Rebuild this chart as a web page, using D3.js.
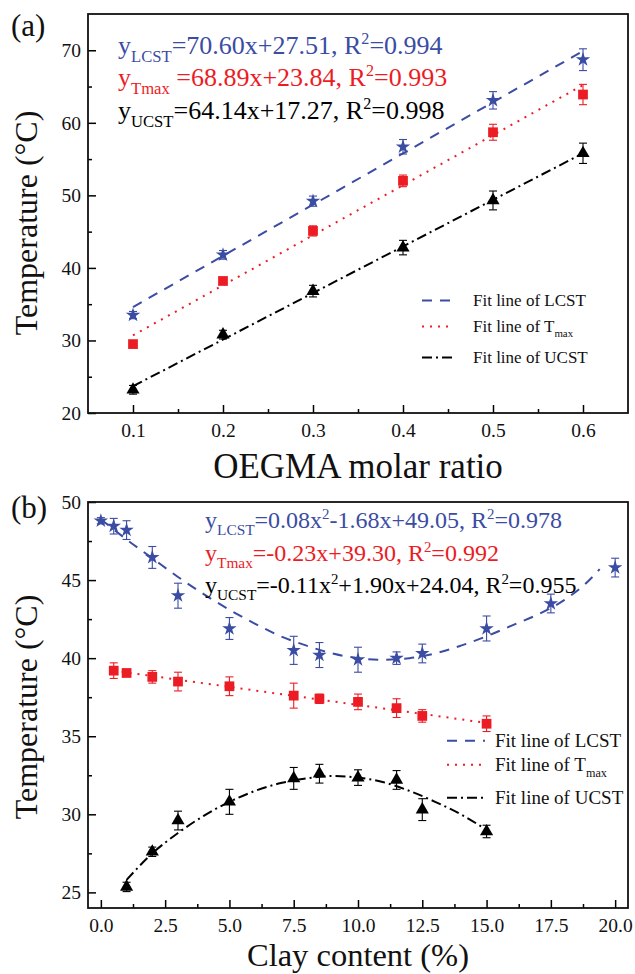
<!DOCTYPE html>
<html>
<head>
<meta charset="utf-8">
<script src="https://cdn.jsdelivr.net/npm/d3@7"></script>
<style>
  body { margin: 0; background: #fff; }
  svg text { font-family: "Liberation Serif", "Times New Roman", serif; }
</style>
</head>
<body>
<div id="chart"></div>
<script>
// Panel (a): transition temperatures vs OEGMA molar ratio
const ratioX = [0.1, 0.2, 0.3, 0.4, 0.5, 0.6];
const lcstA = [33.5, 41.8, 49.2, 56.7, 63.1, 68.7];
const lcstErrA = [0.5, 0.6, 0.7, 1.0, 1.2, 1.5];
const tmaxA = [29.5, 38.2, 45.1, 52.0, 58.7, 63.9];
const tmaxErrA = [0.4, 0.4, 0.7, 0.8, 1.1, 1.4];
const ucstA = [23.2, 30.8, 36.8, 42.8, 49.3, 55.8];
const ucstErrA = [0.6, 0.6, 0.8, 1.0, 1.3, 1.4];
// fit lines of panel (a), read at both ends
const fitXA = [0.1, 0.6];
const lcstFitA = [34.6, 69.9];
const tmaxFitA = [30.7, 65.2];
const ucstFitA = [23.7, 55.8];

// Panel (b): transition temperatures vs clay content
const clayLcstX = [0, 0.5, 1, 2, 3, 5, 7.5, 8.5, 10, 11.5, 12.5, 15, 17.5, 20];
const lcstB = [48.8, 48.45, 48.2, 46.45, 44.0, 41.9, 40.5, 40.2, 39.9, 40.0, 40.3, 41.9, 43.5, 45.8];
const lcstErrB = [0.2, 0.5, 0.6, 0.7, 0.8, 0.7, 0.9, 0.8, 0.8, 0.4, 0.6, 0.8, 0.6, 0.6];
const clayTmaxX = [0.5, 1, 2, 3, 5, 7.5, 8.5, 10, 11.5, 12.5, 15];
const tmaxB = [39.2, 39.05, 38.8, 38.5, 38.2, 37.6, 37.4, 37.2, 36.8, 36.3, 35.8];
const tmaxErrB = [0.5, 0.1, 0.4, 0.6, 0.6, 0.8, 0.3, 0.5, 0.6, 0.4, 0.5];
const clayUcstX = [1, 2, 3, 5, 7.5, 8.5, 10, 11.5, 12.5, 15];
const ucstB = [25.35, 27.6, 29.6, 30.8, 32.3, 32.6, 32.35, 32.2, 30.3, 28.9];
const ucstErrB = [0.3, 0.3, 0.6, 0.8, 0.7, 0.6, 0.5, 0.6, 0.7, 0.4];
// fit curves of panel (b)
const lcstFitXB = [0, 1, 2, 3, 4, 5, 6, 7, 8, 9, 10, 11, 12, 13, 14, 15, 16, 17, 18, 19, 19.4];
const lcstFitB = [48.9, 47.6, 46.4, 45.2, 44.1, 43.1, 42.2, 41.4, 40.8, 40.3, 40.0, 39.9, 40.0, 40.3, 40.8, 41.4, 42.1, 42.8, 43.7, 45.0, 45.7];
const tmaxFitXB = [0.5, 15];
const tmaxFitB = [39.2, 35.85];
const ucstFitXB = [1, 2, 3, 4, 5, 6, 7, 8, 9, 10, 11, 12, 13, 14, 15];
const ucstFitB = [25.8, 27.5, 28.8, 29.9, 30.8, 31.5, 32.0, 32.3, 32.45, 32.35, 32.05, 31.5, 30.8, 30.0, 29.0];

// Text content
const eqA = [
    [["y", ""], ["LCST", "sub"], ["=70.60x+27.51, R", ""], ["2", "sup"], ["=0.994", ""]],
    [["y", ""], ["Tmax", "sub"], [" =68.89x+23.84, R", ""], ["2", "sup"], ["=0.993", ""]],
    [["y", ""], ["UCST", "sub"], ["=64.14x+17.27, R", ""], ["2", "sup"], ["=0.998", ""]]
];
const eqB = [
    [["y", ""], ["LCST", "sub"], ["=0.08x", ""], ["2", "sup"], ["-1.68x+49.05, R", ""], ["2", "sup"], ["=0.978", ""]],
    [["y", ""], ["Tmax", "sub"], ["=-0.23x+39.30, R", ""], ["2", "sup"], ["=0.992", ""]],
    [["y", ""], ["UCST", "sub"], ["=-0.11x", ""], ["2", "sup"], ["+1.90x+24.04, R", ""], ["2", "sup"], ["=0.955", ""]]
];
const legendLabels = [
    [["Fit line of LCST", ""]],
    [["Fit line of T", ""], ["max", "sub"]],
    [["Fit line of UCST", ""]]
];

const BLUE = "#3b4ca3", RED = "#ec1c25", BLACK = "#000";
const dashLcst = "10,8", dashTmax = "2,6", dashUcst = "10,4,2,4";

const svg = d3.select("#chart").append("svg")
    .attr("width", 635)
    .attr("height", 974);

function richText(g, segs, size, fill) {
    const t = g.append("text").attr("fill", fill).attr("font-size", size);
    let shift = 0;
    segs.forEach(function (s) {
        let target = 0, fs = size;
        if (s[1] === "sub") { target = size * 0.3; fs = size * 0.64; }
        if (s[1] === "sup") { target = -size * 0.38; fs = size * 0.62; }
        t.append("tspan")
         .attr("dy", target - shift)
         .attr("font-size", fs)
         .text(s[0]);
        shift = target;
    });
    return t;
}

function drawPanel(p) {
    const g = svg.append("g");
    const xScale = d3.scaleLinear().domain(p.xDomain).range([p.left, p.right]);
    const yScale = d3.scaleLinear().domain(p.yDomain).range([p.bottom, p.top]);

    // Minor ticks, inward, no labels
    g.append("g")
     .attr("transform", "translate(0," + p.bottom + ")")
     .call(d3.axisBottom(xScale).tickValues(p.xMinor).tickSizeInner(-4).tickSizeOuter(0))
     .selectAll("text").remove();
    g.append("g")
     .attr("transform", "translate(" + p.left + ",0)")
     .call(d3.axisLeft(yScale).tickValues(p.yMinor).tickSizeInner(-4).tickSizeOuter(0))
     .selectAll("text").remove();

    // Major ticks, inward, with labels
    const xAxis = g.append("g")
     .attr("transform", "translate(0," + p.bottom + ")")
     .call(d3.axisBottom(xScale).tickValues(p.xMajor).tickSizeInner(-8).tickSizeOuter(0).tickPadding(10).tickFormat(p.xFormat));
    const yAxis = g.append("g")
     .attr("transform", "translate(" + p.left + ",0)")
     .call(d3.axisLeft(yScale).tickValues(p.yMajor).tickSizeInner(-8).tickSizeOuter(0).tickPadding(7).tickFormat(d3.format("d")));
    g.selectAll(".domain").remove();
    [xAxis, yAxis].forEach(function (a) {
        a.attr("font-family", null).attr("font-size", null);
        a.selectAll("text").attr("font-size", 19.5).attr("fill", "#111");
    });
    g.selectAll(".tick line").attr("stroke-width", 1.5);

    // Frame
    g.append("rect")
     .attr("x", p.left).attr("y", p.top)
     .attr("width", p.right - p.left).attr("height", p.bottom - p.top)
     .attr("fill", "none").attr("stroke", "#111").attr("stroke-width", 1.8);

    // Fit lines
    const line = d3.line()
        .x(function (d) { return xScale(d[0]); })
        .y(function (d) { return yScale(d[1]); })
        .curve(d3.curveMonotoneX);
    p.fits.forEach(function (f) {
        g.append("path")
         .datum(d3.zip(f.x, f.y))
         .attr("d", line)
         .attr("fill", "none")
         .attr("stroke", f.color)
         .attr("stroke-width", 2)
         .attr("stroke-dasharray", f.dash);
    });

    // Error bars and markers
    p.series.forEach(function (s) {
        const pts = d3.zip(s.x, s.y, s.err);
        const eb = g.append("g").attr("stroke", s.color).attr("stroke-width", 1.1);
        pts.forEach(function (d) {
            const cx = xScale(d[0]), y1 = yScale(d[1] - d[2]), y2 = yScale(d[1] + d[2]);
            eb.append("line").attr("x1", cx).attr("x2", cx).attr("y1", y1).attr("y2", y2);
            eb.append("line").attr("x1", cx - 4).attr("x2", cx + 4).attr("y1", y1).attr("y2", y1);
            eb.append("line").attr("x1", cx - 4).attr("x2", cx + 4).attr("y1", y2).attr("y2", y2);
        });
        g.append("g").selectAll("path")
         .data(pts)
         .enter()
         .append("path")
         .attr("transform", function (d) { return "translate(" + xScale(d[0]) + "," + yScale(d[1]) + ")"; })
         .attr("d", d3.symbol().type(s.symbol).size(s.size))
         .attr("fill", s.color);
    });

    // Equations
    p.eqs.forEach(function (segs, i) {
        richText(g, segs, p.eqFont, p.eqColors[i])
         .attr("x", p.eqX).attr("y", p.eqY[i]);
    });

    // Legend
    p.fits.forEach(function (f, i) {
        const ly = p.legY[i];
        g.append("line")
         .attr("x1", p.legX).attr("x2", p.legX + p.legLen)
         .attr("y1", ly - p.legFont * 0.33).attr("y2", ly - p.legFont * 0.33)
         .attr("stroke", f.color).attr("stroke-width", 2)
         .attr("stroke-dasharray", f.dash);
        richText(g, legendLabels[i], p.legFont, "#111")
         .attr("x", p.legTextX).attr("y", ly);
    });

    // Axis titles and panel tag
    g.append("text")
     .attr("x", (p.left + p.right) / 2).attr("y", p.xTitleY)
     .attr("text-anchor", "middle").attr("font-size", p.xTitleFont).attr("fill", "#111")
     .text(p.xTitle);
    g.append("text")
     .attr("transform", "translate(37," + p.yTitleC + ") rotate(-90)")
     .attr("text-anchor", "middle").attr("font-size", 32).attr("fill", "#111")
     .text("Temperature (°C)");
    g.append("text")
     .attr("x", 11).attr("y", p.tagY)
     .attr("font-size", 31).attr("fill", "#111")
     .text(p.tag);
}

drawPanel({
    left: 88, right: 628, top: 14, bottom: 413,
    xDomain: [0.05, 0.65], yDomain: [20, 75],
    xMajor: [0.1, 0.2, 0.3, 0.4, 0.5, 0.6],
    xMinor: [0.15, 0.25, 0.35, 0.45, 0.55],
    yMajor: [20, 30, 40, 50, 60, 70],
    yMinor: [25, 35, 45, 55, 65],
    xFormat: d3.format(".1f"),
    fits: [
        {x: fitXA, y: lcstFitA, color: BLUE, dash: dashLcst},
        {x: fitXA, y: tmaxFitA, color: RED, dash: dashTmax},
        {x: fitXA, y: ucstFitA, color: BLACK, dash: dashUcst}
    ],
    series: [
        {x: ratioX, y: lcstA, err: lcstErrA, color: BLUE, symbol: d3.symbolStar, size: 65},
        {x: ratioX, y: tmaxA, err: tmaxErrA, color: RED, symbol: d3.symbolSquare, size: 95},
        {x: ratioX, y: ucstA, err: ucstErrA, color: BLACK, symbol: d3.symbolTriangle, size: 75}
    ],
    eqs: eqA, eqColors: [BLUE, RED, BLACK], eqFont: 26,
    eqX: 118, eqY: [54, 86, 119],
    legX: 422, legLen: 32, legTextX: 473, legFont: 17, legY: [306, 332, 363],
    xTitle: "OEGMA molar ratio", xTitleY: 478, xTitleFont: 35,
    yTitleC: 223, tag: "(a)", tagY: 36
});

drawPanel({
    left: 88, right: 628, top: 502, bottom: 908,
    xDomain: [-0.5, 20.5], yDomain: [24, 50],
    xMajor: [0, 2.5, 5, 7.5, 10, 12.5, 15, 17.5, 20],
    xMinor: [1.25, 3.75, 6.25, 8.75, 11.25, 13.75, 16.25, 18.75],
    yMajor: [25, 30, 35, 40, 45, 50],
    yMinor: [27.5, 32.5, 37.5, 42.5, 47.5],
    xFormat: d3.format(".1f"),
    fits: [
        {x: lcstFitXB, y: lcstFitB, color: BLUE, dash: dashLcst},
        {x: tmaxFitXB, y: tmaxFitB, color: RED, dash: dashTmax},
        {x: ucstFitXB, y: ucstFitB, color: BLACK, dash: dashUcst}
    ],
    series: [
        {x: clayLcstX, y: lcstB, err: lcstErrB, color: BLUE, symbol: d3.symbolStar, size: 65},
        {x: clayTmaxX, y: tmaxB, err: tmaxErrB, color: RED, symbol: d3.symbolSquare, size: 95},
        {x: clayUcstX, y: ucstB, err: ucstErrB, color: BLACK, symbol: d3.symbolTriangle, size: 75}
    ],
    eqs: eqB, eqColors: [BLUE, RED, BLACK], eqFont: 24,
    eqX: 205, eqY: [528, 561, 593],
    legX: 447, legLen: 38, legTextX: 495, legFont: 19, legY: [747, 771, 804],
    xTitle: "Clay content (%)", xTitleY: 966, xTitleFont: 32.5,
    yTitleC: 707, tag: "(b)", tagY: 518
});
</script>
</body>
</html>
